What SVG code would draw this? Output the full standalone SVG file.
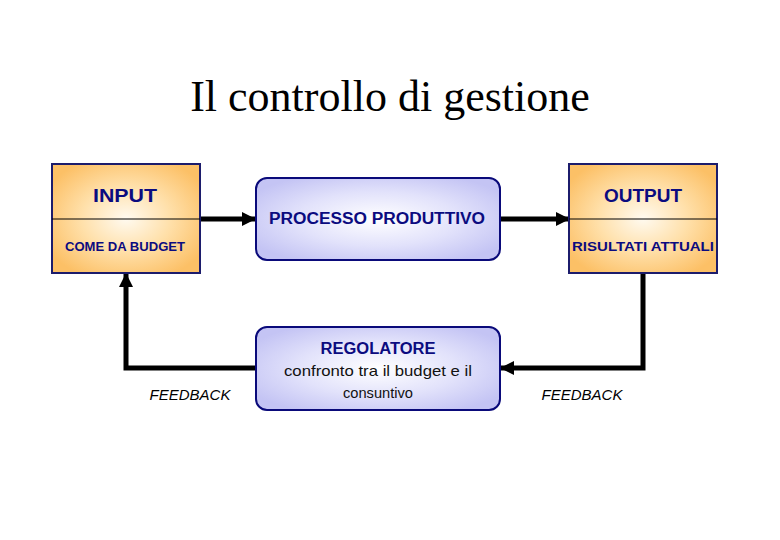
<svg xmlns="http://www.w3.org/2000/svg" width="780" height="540" viewBox="0 0 780 540">
<defs>
<radialGradient id="gOr" cx="50%" cy="50%" r="60%">
<stop offset="0" stop-color="#fffaf0"/>
<stop offset="0.5" stop-color="#ffe0aa"/>
<stop offset="1" stop-color="#fcc066"/>
</radialGradient>
<radialGradient id="gBl" cx="50%" cy="50%" r="60%">
<stop offset="0" stop-color="#ffffff"/>
<stop offset="0.55" stop-color="#e2e2fb"/>
<stop offset="1" stop-color="#c4c4f4"/>
</radialGradient>
<marker id="ah" viewBox="0 0 14 14" refX="13" refY="7" markerWidth="14" markerHeight="14" markerUnits="userSpaceOnUse" orient="auto">
<path d="M0,0 L14,7 L0,14 Z" fill="#000"/>
</marker>
</defs>
<style>
.t{font-family:"Liberation Sans",Arial,sans-serif;fill:#0b0b80;text-anchor:middle;font-weight:bold}
.n{font-family:"Liberation Sans",Arial,sans-serif;fill:#111;text-anchor:middle}
.fb{font-family:"Liberation Sans",Arial,sans-serif;fill:#000;font-style:italic;font-size:15px;text-anchor:middle}
.or{fill:url(#gOr);stroke:#1c1c6c;stroke-width:2}
.bl{fill:url(#gBl);stroke:#0a0a7a;stroke-width:2}
.c{fill:none;stroke:#000;stroke-width:5;marker-end:url(#ah)}
</style>
<rect width="780" height="540" fill="#fff"/>
<text x="390" y="111" font-family="'Liberation Serif','Times New Roman',serif" font-size="44" text-anchor="middle" fill="#000">Il controllo di gestione</text>
<g id="connectors">
<path class="c" d="M200,219 H255"/>
<path class="c" d="M500,219 H569"/>
<path class="c" d="M643,273 V368 H501"/>
<path class="c" d="M255,368 H126 V274"/>
</g>
<g id="input">
<rect class="or" x="52" y="164" width="148" height="109"/>
<line x1="52" y1="219" x2="200" y2="219" stroke="#000" stroke-width="1"/>
<text class="t" x="125" y="202" font-size="19" textLength="64" lengthAdjust="spacingAndGlyphs">INPUT</text>
<text class="t" x="125" y="251" font-size="13" textLength="120" lengthAdjust="spacingAndGlyphs">COME DA BUDGET</text>
</g>
<g id="output">
<rect class="or" x="569" y="164" width="148" height="109"/>
<line x1="569" y1="219" x2="717" y2="219" stroke="#000" stroke-width="1"/>
<text class="t" x="643" y="202" font-size="19" textLength="78" lengthAdjust="spacingAndGlyphs">OUTPUT</text>
<text class="t" x="643" y="251" font-size="13" textLength="142" lengthAdjust="spacingAndGlyphs">RISULTATI ATTUALI</text>
</g>
<g id="processo">
<rect class="bl" x="256" y="178" width="244" height="82" rx="11"/>
<text class="t" x="377" y="224" font-size="16" textLength="216" lengthAdjust="spacingAndGlyphs">PROCESSO PRODUTTIVO</text>
</g>
<g id="regolatore">
<rect class="bl" x="256" y="327" width="244" height="83" rx="11"/>
<text class="t" x="378" y="354" font-size="16" textLength="115" lengthAdjust="spacingAndGlyphs">REGOLATORE</text>
<text class="n" x="378" y="376" font-size="15" textLength="188" lengthAdjust="spacingAndGlyphs">confronto tra il budget e il</text>
<text class="n" x="378" y="398" font-size="15" textLength="70" lengthAdjust="spacingAndGlyphs">consuntivo</text>
</g>
<g id="labels">
<text class="fb" x="190" y="400">FEEDBACK</text>
<text class="fb" x="582" y="400">FEEDBACK</text>
</g>
</svg>
